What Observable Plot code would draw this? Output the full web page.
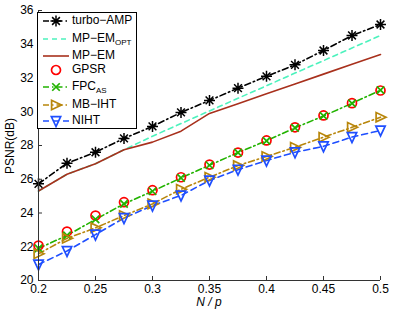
<!DOCTYPE html>
<html>
<head>
<meta charset="utf-8">
<script src="https://cdn.jsdelivr.net/npm/d3@7"></script>
<script src="https://cdn.jsdelivr.net/npm/@observablehq/plot@0.6"></script>
<style>
  html, body { margin: 0; padding: 0; background: #fff; }
  #chart { position: relative; width: 395px; height: 313px; }
</style>
</head>
<body>
<div id="chart"></div>
<script>
// ---- data ----
const ratio = [0.2, 0.225, 0.25, 0.275, 0.3, 0.325, 0.35, 0.375, 0.4, 0.425, 0.45, 0.475, 0.5];
const turboAMP = [25.73, 26.95, 27.6, 28.42, 29.13, 29.96, 30.67, 31.4, 32.1, 32.78, 33.63, 34.52, 35.17];
const mpemOpt  = [25.3, 26.3, 26.92, 27.75, 28.55, 29.3, 30.05, 30.8, 31.54, 32.29, 33.03, 33.78, 34.52];
const mpem     = [25.3, 26.3, 26.92, 27.75, 28.2, 28.85, 29.9, 30.48, 31.06, 31.65, 32.23, 32.81, 33.39];
const gpsr     = [22.07, 22.9, 23.85, 24.64, 25.35, 26.12, 26.87, 27.58, 28.3, 29.08, 29.78, 30.51, 31.26];
const fpcas    = [21.9, 22.67, 23.62, 24.54, 25.29, 26.08, 26.83, 27.58, 28.28, 29.05, 29.75, 30.5, 31.28];
const mbiht    = [21.58, 22.5, 23.12, 23.85, 24.54, 25.41, 26.12, 26.81, 27.35, 27.9, 28.49, 29.08, 29.68];
const niht     = [20.95, 21.75, 22.72, 23.7, 24.44, 25.04, 25.93, 26.57, 27.11, 27.6, 27.95, 28.5, 28.89];
const xTicks = [0.2, 0.25, 0.3, 0.35, 0.4, 0.45, 0.5];
const xTickLabels = ["0.2", "0.25", "0.3", "0.35", "0.4", "0.45", "0.5"];
const yTicks = [20, 22, 24, 26, 28, 30, 32, 34, 36];

// ---- symbols ----
const star8 = {draw(ctx, size) {
  const r = Math.sqrt(size / Math.PI), d = r * Math.SQRT1_2;
  ctx.moveTo(-r, 0); ctx.lineTo(r, 0); ctx.moveTo(0, -r); ctx.lineTo(0, r);
  ctx.moveTo(-d, -d); ctx.lineTo(d, d); ctx.moveTo(-d, d); ctx.lineTo(d, -d);
}};
const cross = {draw(ctx, size) {
  const r = Math.sqrt(size / Math.PI) * 0.75;
  ctx.moveTo(-r, -r); ctx.lineTo(r, r); ctx.moveTo(-r, r); ctx.lineTo(r, -r);
}};
const triRight = {draw(ctx, size) {
  const r = Math.sqrt(size / Math.PI);
  ctx.moveTo(r, 0); ctx.lineTo(-r * 0.8, -r * 0.85); ctx.lineTo(-r * 0.8, r * 0.85); ctx.closePath();
}};
const triDown = {draw(ctx, size) {
  const r = Math.sqrt(size / Math.PI);
  ctx.moveTo(0, r); ctx.lineTo(-r * 0.85, -r * 0.8); ctx.lineTo(r * 0.85, -r * 0.8); ctx.closePath();
}};

const series = [
  {name: "turbo-AMP", values: turboAMP, color: "#000000", dash: "6,3,1.5,3", symbol: star8, r: 5.5, sw: 1.5, line: true},
  {name: "MP-EM_OPT", values: mpemOpt, color: "#4df2bd", dash: "5,4", symbol: null, line: true},
  {name: "MP-EM", values: mpem, color: "#a8301c", dash: null, symbol: null, line: true},
  {name: "GPSR", values: gpsr, color: "#ff0000", dash: null, symbol: "circle", r: 4.5, sw: 1.7, line: false},
  {name: "FPC_AS", values: fpcas, color: "#22b300", dash: "6,3,1.5,3", symbol: cross, r: 5, sw: 1.7, line: true},
  {name: "MB-IHT", values: mbiht, color: "#b8860b", dash: "6,3,1.5,3", symbol: triRight, r: 5.5, sw: 1.7, line: true},
  {name: "NIHT", values: niht, color: "#1f4fff", dash: "6,4", symbol: triDown, r: 5.5, sw: 1.7, line: true}
];
const rows = s => ratio.map((x, i) => ({x, y: s.values[i]}));

const marks = [];
for (const s of series) {
  if (s.line) marks.push(Plot.line(rows(s), {x: "x", y: "y", stroke: s.color, strokeWidth: 1.6, strokeDasharray: s.dash}));
}
for (const s of series) {
  if (s.symbol) marks.push(Plot.dot(rows(s), {x: "x", y: "y", symbol: s.symbol, r: s.r, stroke: s.color, strokeWidth: s.sw, fill: "none"}));
}

const chart = Plot.plot({
  width: 395, height: 313,
  marginLeft: 38, marginRight: 15, marginTop: 10, marginBottom: 33,
  style: {fontFamily: "Liberation Sans, Arial, Helvetica, sans-serif", fontSize: "12px", background: "#fff", color: "#000"},
  x: {domain: [0.2, 0.5]},
  y: {domain: [20, 36]},
  marks: [
    Plot.axisX({ticks: xTicks, tickFormat: (d, i) => xTickLabels[i], tickSize: 0, tickPadding: 4, label: null, fontSize: 12}),
    Plot.axisY({ticks: yTicks, tickSize: 0, tickPadding: 5, label: null, fontSize: 12}),
    Plot.tickX(xTicks, {x: d => d, insetTop: 266, stroke: "#333"}),
    Plot.tickY(yTicks, {y: d => d, insetRight: 338, stroke: "#333"}),
    ...marks,
    Plot.ruleX([0.2], {stroke: "#333"}),
    Plot.ruleY([20], {stroke: "#333"})
  ]
});
document.getElementById("chart").appendChild(chart);

// ---- labels & legend ----
const svg = d3.select(chart);
const font = "Liberation Sans, Arial, Helvetica, sans-serif";
svg.append("text").attr("x", 209).attr("y", 303).attr("text-anchor", "middle").attr("dominant-baseline", "middle")
  .attr("font-family", font).attr("font-size", 12).attr("font-style", "italic").text("N / p");
svg.append("text").attr("transform", "translate(11,146) rotate(-90)").attr("text-anchor", "middle").attr("dominant-baseline", "middle")
  .attr("font-family", font).attr("font-size", 12).text("PSNR(dB)");

const lg = svg.append("g");
lg.append("rect").attr("x", 37.5).attr("y", 12.5).attr("width", 99).attr("height", 116)
  .attr("fill", "#fff").attr("stroke", "#000").attr("stroke-width", 1);
const legendY = [21, 39, 56, 70, 87, 105, 121];
series.forEach((s, i) => {
  const y = legendY[i];
  if (s.line) lg.append("line").attr("x1", 43).attr("x2", 69).attr("y1", y).attr("y2", y)
    .attr("stroke", s.color).attr("stroke-width", 1.6).attr("stroke-dasharray", s.dash);
  if (s.symbol) {
    const type = s.symbol === "circle" ? d3.symbolCircle : s.symbol;
    lg.append("path").attr("d", d3.symbol(type, Math.PI * s.r * s.r)()).attr("transform", `translate(56,${y})`)
      .attr("fill", "none").attr("stroke", s.color).attr("stroke-width", s.sw);
  }
  const t = lg.append("text").attr("x", 72).attr("y", y).attr("dominant-baseline", "middle").attr("text-anchor", "start")
    .attr("font-family", font).attr("font-size", 12);
  const parts = s.name.split("_");
  t.append("tspan").text(parts[0].replace("-", "\u2212"));
  if (parts[1]) t.append("tspan").attr("font-size", 8).attr("dy", 4).text(parts[1]);
});
</script>
</body>
</html>
